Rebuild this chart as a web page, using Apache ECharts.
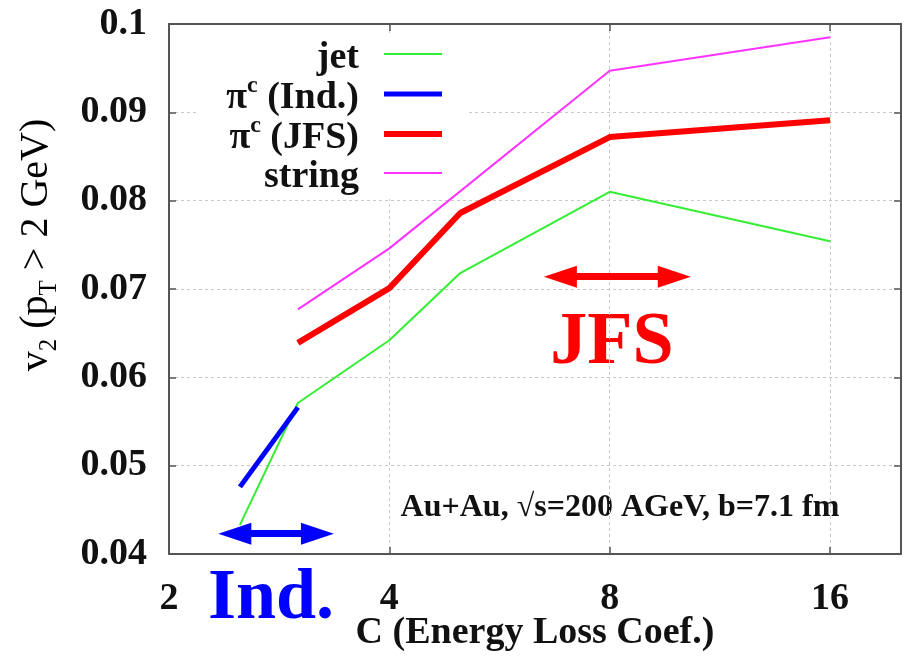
<!DOCTYPE html>
<html>
<head>
<meta charset="utf-8">
<script src="https://cdn.jsdelivr.net/npm/echarts@6/dist/echarts.min.js"></script>
<style>html,body{margin:0;padding:0;background:#fff;}#c{width:906px;height:657px;}</style>
</head>
<body>
<div id="c"></div>
<script>
// ---- data ----
const xTicks = [2, 4, 8, 16];
const yTicks = ['0.04', '0.05', '0.06', '0.07', '0.08', '0.09', '0.1'];

const jetC = [2.5, 3, 4, 5, 8, 16];
const jetV = [0.0433, 0.0571, 0.0642, 0.0718, 0.0810, 0.0754];

const indC = [2.5, 3];
const indV = [0.0476, 0.0566];

const jfsC = [3, 4, 5, 8, 16];
const jfsV = [0.0639, 0.0701, 0.0786, 0.0872, 0.0891];

const strC = [3, 4, 8, 16];
const strV = [0.0677, 0.0746, 0.0947, 0.0985];

// range arrows (annotation): [fromC, toC, v]
const indArrow = [2.46, 3.19, 0.0423];
const jfsArrow = [6.85, 9.80, 0.0714];

const pairs = (c, v) => c.map((x, i) => [x, v[i]]);

const FONT = 'Liberation Serif';
const chart = echarts.init(document.getElementById('c'));

const legendRich = {
  t: { fontFamily: FONT, fontWeight: 'bold', fontSize: 38, color: '#111', height: 30, lineHeight: 38, padding: [8, 0, 0, 0] },
  sup: { fontFamily: FONT, fontWeight: 'bold', fontSize: 24, color: '#111', height: 22, lineHeight: 38, padding: [0, 0, 16, 0] },
  g: { width: 20, height: 38, lineHeight: 38 }
};
const legendText = {
  'jet': '{t|jet}{g| }',
  'pi_ind': '{t|π}{sup|c}{t| (Ind.)}{g| }',
  'pi_jfs': '{t|π}{sup|c}{t| (JFS)}{g| }',
  'string': '{t|string}{g| }'
};

const gridLine = { show: true, lineStyle: { color: '#c8c8c8', type: [3, 3], width: 1 } };
const frame = { show: true, lineStyle: { color: '#555', width: 2 } };
const ticks = { show: true, inside: true, length: 7, lineStyle: { color: '#555', width: 1.5 } };

chart.setOption({
  animation: false,
  backgroundColor: '#fff',
  grid: { left: 169, top: 24, right: 5, bottom: 103, containLabel: false, outerBoundsMode: 'none' },
  legend: {
    orient: 'vertical',
    align: 'right',
    right: 439,
    top: 33,
    padding: [2, 22, 3, 30],
    backgroundColor: '#fff',
    itemWidth: 58,
    itemHeight: 1,
    itemGap: -3,
    itemStyle: { opacity: 0 },
    lineStyle: { width: 'inherit' },
    selectedMode: false,
    data: ['jet', 'pi_ind', 'pi_jfs', 'string'],
    formatter: n => legendText[n],
    textStyle: { rich: legendRich }
  },
  xAxis: [{
    type: 'log', logBase: 2, min: 2, max: 20,
    position: 'bottom',
    axisLine: frame,
    axisTick: ticks,
    minorTick: { show: false },
    splitLine: gridLine,
    axisLabel: {
      margin: 26,
      fontFamily: FONT, fontWeight: 'bold', fontSize: 38, color: '#111',
      formatter: v => { const k = xTicks.findIndex(t => Math.abs(t - v) < 1e-6); return k >= 0 ? String(xTicks[k]) : ''; }
    },
    name: 'C (Energy Loss Coef.)',
    nameLocation: 'middle',
    nameMoveOverlap: false,
    nameGap: 60,
    nameTextStyle: { fontFamily: FONT, fontWeight: 'bold', fontSize: 38, color: '#111' }
  }, {
    type: 'log', logBase: 2, min: 2, max: 20,
    position: 'top',
    axisLine: frame,
    axisTick: ticks,
    splitLine: { show: false },
    axisLabel: { show: false }
  }],
  yAxis: [{
    type: 'value', min: 0.04, max: 0.1, interval: 0.01,
    position: 'left',
    axisLine: frame,
    axisTick: ticks,
    splitLine: gridLine,
    axisLabel: {
      margin: 22,
      fontFamily: FONT, fontWeight: 'bold', fontSize: 38, color: '#111',
      formatter: v => { const k = Math.round((v - 0.04) / 0.01); return yTicks[k] !== undefined ? yTicks[k] : ''; }
    }
  }, {
    type: 'value', min: 0.04, max: 0.1, interval: 0.01,
    position: 'right',
    axisLine: frame,
    axisTick: ticks,
    splitLine: { show: false },
    axisLabel: { show: false }
  }],
  series: [
    {
      name: 'jet', type: 'line', symbol: 'none', data: pairs(jetC, jetV),
      lineStyle: { color: '#33ee33', width: 2 }, itemStyle: { color: '#33ee33' }, z: 3
    },
    {
      name: 'pi_ind', type: 'line', symbol: 'none', data: pairs(indC, indV),
      lineStyle: { color: '#0000ff', width: 5 }, itemStyle: { color: '#0000ff' }, z: 4
    },
    {
      name: 'pi_jfs', type: 'line', symbol: 'none', data: pairs(jfsC, jfsV),
      lineStyle: { color: '#ff0000', width: 6 }, itemStyle: { color: '#ff0000' }, z: 4,
      markLine: {
        silent: true, animation: false,
        symbol: ['triangle', 'triangle'], symbolSize: [22, 33],
        label: { show: false },
        data: [
          [{ coord: [indArrow[0], indArrow[2]], lineStyle: { color: '#0000ff', width: 7, type: 'solid' }, itemStyle: { color: '#0000ff' } },
           { coord: [indArrow[1], indArrow[2]] }],
          [{ coord: [jfsArrow[0], jfsArrow[2]], lineStyle: { color: '#ff0000', width: 7, type: 'solid' }, itemStyle: { color: '#ff0000' } },
           { coord: [jfsArrow[1], jfsArrow[2]] }]
        ]
      }
    },
    {
      name: 'string', type: 'line', symbol: 'none', data: pairs(strC, strV),
      lineStyle: { color: '#ff33ff', width: 2 }, itemStyle: { color: '#ff33ff' }, z: 4
    }
  ],
  graphic: [
    {
      type: 'text', x: 40, y: 245, rotation: Math.PI / 2,
      style: {
        text: '{v|v}{s|2}{v| (p}{s|T}{v| > 2 GeV)}',
        align: 'center', verticalAlign: 'middle',
        rich: {
          v: { fontFamily: FONT, fontSize: 40, color: '#111', height: 34, lineHeight: 42, padding: [0, 0, 8, 0] },
          s: { fontFamily: FONT, fontSize: 25, color: '#111', height: 24, lineHeight: 42, padding: [18, 0, 0, 0] }
        }
      }
    },
    {
      type: 'text', x: 620, y: 508,
      style: { text: 'Au+Au, √s=200 AGeV, b=7.1 fm', align: 'center', verticalAlign: 'middle',
        font: 'bold 32px "Liberation Serif"', fill: '#111' }
    },
    {
      type: 'text', x: 612, y: 344,
      style: { text: 'JFS', align: 'center', verticalAlign: 'middle',
        font: 'bold 74px "Liberation Serif"', fill: '#ff0000' }
    },
    {
      type: 'text', x: 271, y: 599,
      style: { text: 'Ind.', align: 'center', verticalAlign: 'middle',
        font: 'bold 72px "Liberation Serif"', fill: '#0000ff' }
    }
  ]
});
</script>
</body>
</html>
